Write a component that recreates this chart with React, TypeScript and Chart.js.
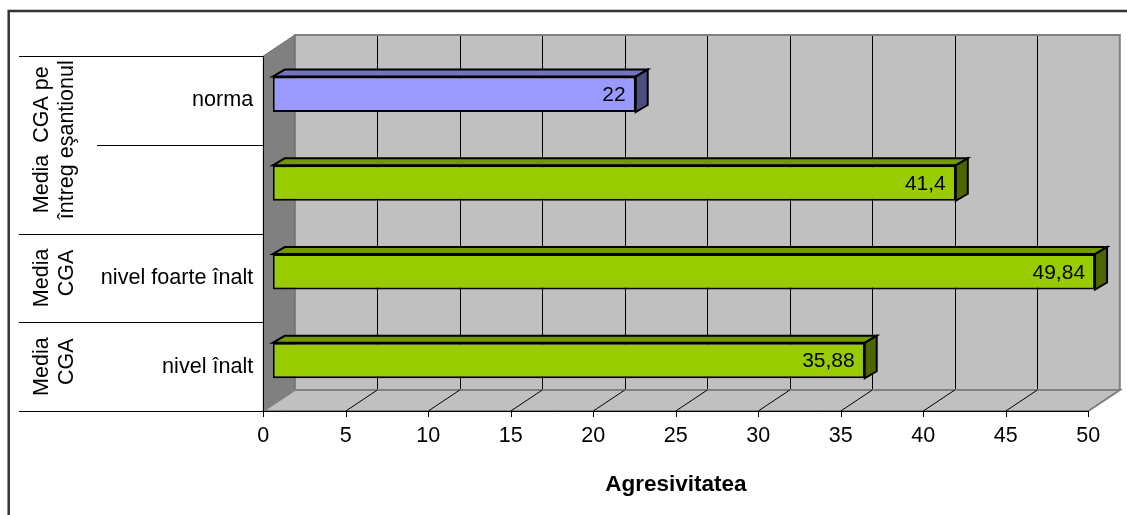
import { useEffect, useRef } from 'react';
import { Chart, registerables } from 'chart.js';

Chart.register(...registerables);

// ---- data ----
const categories = ['norma', '', 'nivel foarte înalt', 'nivel înalt'];
const values = [22, 41.4, 49.84, 35.88];
const groupLabels = [
  ['Media  CGA pe', 'întreg eşantionul'],
  ['Media', 'CGA'],
  ['Media', 'CGA'],
];
const groupFirst = [0, 2, 3];
const groupLast = [1, 2, 3];
const xTitle = 'Agresivitatea';
const xMin = 0;
const xMax = 50;
const xStep = 5;

// ---- styles ----
const FONT = "'Liberation Sans', Arial, sans-serif";
const frontColors = ['#9999FF', '#99CC00', '#99CC00', '#99CC00'];
const topColors = ['#7373BF', '#739900', '#739900', '#739900'];
const sideColors = ['#4D4D80', '#4D6600', '#4D6600', '#4D6600'];
const WALL = { dx: 31.5, dy: -21 };
const BAR_OFF = { dx: 9.4, dy: -6.1 };
const BAR_DEPTH = { dx: 12, dy: -7 };
const OUTER_X = 19;
const INNER_X = 97;
const GROUP_BASELINES = [48, 73];
const GROUP_SHIFT = [
  [-5, -5],
  [0, -5],
  [0, -5],
];

function line(ctx: CanvasRenderingContext2D, x1: number, y1: number, x2: number, y2: number) {
  ctx.beginPath();
  ctx.moveTo(x1, y1);
  ctx.lineTo(x2, y2);
  ctx.stroke();
}

function poly(ctx: CanvasRenderingContext2D, pts: number[][], fill: string, stroke: string, lw: number) {
  ctx.beginPath();
  ctx.moveTo(pts[0][0], pts[0][1]);
  for (let i = 1; i < pts.length; i++) ctx.lineTo(pts[i][0], pts[i][1]);
  ctx.closePath();
  ctx.fillStyle = fill;
  ctx.fill();
  if (stroke) {
    ctx.strokeStyle = stroke;
    ctx.lineWidth = lw;
    ctx.stroke();
  }
}

const threeD = {
  id: 'threeD',
  beforeDraw(chart: any) {
    const ctx: CanvasRenderingContext2D = chart.ctx;
    ctx.save();
    ctx.strokeStyle = '#333333';
    ctx.lineWidth = 2.5;
    ctx.strokeRect(8.7, 11, 3000, 3000);
    ctx.restore();
  },
  beforeDatasetsDraw(chart: any) {
    const ctx: CanvasRenderingContext2D = chart.ctx;
    const a = chart.chartArea;
    const xs = chart.scales.x;
    const ys = chart.scales.y;
    const X0 = xs.getPixelForValue(xMin);
    const X1 = xs.getPixelForValue(xMax);
    const T = a.top;
    const B = a.bottom;
    const { dx, dy } = WALL;
    ctx.save();
    ctx.lineJoin = 'miter';

    // back wall
    ctx.fillStyle = '#C0C0C0';
    ctx.fillRect(X0 + dx, T + dy, X1 - X0, B - T);
    ctx.strokeStyle = '#000';
    ctx.lineWidth = 1;
    xs.ticks.forEach((t: any) => {
      if (t.value <= xMin || t.value >= xMax) return;
      const px = Math.round(xs.getPixelForValue(t.value) + dx) + 0.5;
      line(ctx, px, T + dy, px, B + dy);
    });
    ctx.strokeStyle = '#808080';
    ctx.lineWidth = 2;
    ctx.strokeRect(X0 + dx, T + dy, X1 - X0, B - T);

    // left wall
    poly(ctx, [[X0, T], [X0 + dx, T + dy], [X0 + dx, B + dy], [X0, B]], '#808080', '#707070', 1);

    // floor
    poly(ctx, [[X0, B], [X0 + dx, B + dy], [X1 + dx, B + dy], [X1, B]], '#C0C0C0', '#808080', 2);
    ctx.strokeStyle = '#000';
    ctx.lineWidth = 1;
    xs.ticks.forEach((t: any) => {
      if (t.value <= xMin) return;
      const px = xs.getPixelForValue(t.value);
      if (t.value >= xMax) ctx.strokeStyle = '#808080';
      line(ctx, px, B, px + dx, B + dy);
      ctx.strokeStyle = '#000';
    });

    // axis lines and ticks
    ctx.strokeStyle = '#000';
    ctx.lineWidth = 1;
    const by = Math.round(B) + 0.5;
    line(ctx, OUTER_X, by, X1, by);
    const lx = Math.round(X0) + 0.5;
    line(ctx, lx, T, lx, B + 6);
    xs.ticks.forEach((t: any) => {
      const px = Math.round(xs.getPixelForValue(t.value)) + 0.5;
      line(ctx, px, B, px, B + 6);
    });

    // category table lines
    const n = categories.length;
    for (let i = 0; i <= n; i++) {
      let yy: number;
      if (i === 0) yy = T;
      else if (i === n) yy = B;
      else yy = (ys.getPixelForValue(i - 1) + ys.getPixelForValue(i)) / 2;
      const outer = i === n || groupFirst.includes(i);
      const py = Math.round(yy) + 0.5;
      line(ctx, outer ? OUTER_X : INNER_X, py, X0, py);
    }

    // category labels
    ctx.fillStyle = '#000';
    ctx.font = `21.6px ${FONT}`;
    ctx.textAlign = 'right';
    ctx.textBaseline = 'middle';
    categories.forEach((c, i) => {
      if (!c) return;
      ctx.fillText(c, X0 - 10, ys.getPixelForValue(i));
    });

    // group labels (rotated)
    ctx.font = `21.5px ${FONT}`;
    ctx.textAlign = 'center';
    ctx.textBaseline = 'alphabetic';
    groupLabels.forEach((lines, g) => {
      const y1 = ys.getPixelForValue(groupFirst[g]);
      const y2 = ys.getPixelForValue(groupLast[g]);
      const cy = (y1 + y2) / 2;
      lines.forEach((txt, k) => {
        ctx.save();
        ctx.translate(GROUP_BASELINES[k], cy + GROUP_SHIFT[g][k]);
        ctx.rotate(-Math.PI / 2);
        ctx.fillText(txt, 0, 0);
        ctx.restore();
      });
    });

    // bar top / side faces
    const meta = chart.getDatasetMeta(0);
    meta.data.forEach((el: any, i: number) => {
      const p = el.getProps(['x', 'y', 'base', 'height'], true);
      const L = p.base + BAR_OFF.dx;
      const R = p.x + BAR_OFF.dx;
      const tp = p.y - p.height / 2 + BAR_OFF.dy;
      const bt = p.y + p.height / 2 + BAR_OFF.dy;
      const ddx = BAR_DEPTH.dx;
      const ddy = BAR_DEPTH.dy;
      poly(ctx, [[L, tp], [L + ddx, tp + ddy], [R + ddx, tp + ddy], [R, tp]], topColors[i], '#000', 2);
      poly(ctx, [[R, tp], [R + ddx, tp + ddy], [R + ddx, bt + ddy], [R, bt]], sideColors[i], '#000', 2);
    });

    ctx.restore();
    ctx.save();
    ctx.translate(BAR_OFF.dx, BAR_OFF.dy);
  },
  afterDatasetsDraw(chart: any) {
    const ctx: CanvasRenderingContext2D = chart.ctx;
    ctx.restore();
    ctx.save();
    ctx.fillStyle = '#000';
    ctx.font = `21px ${FONT}`;
    ctx.textAlign = 'right';
    ctx.textBaseline = 'middle';
    const meta = chart.getDatasetMeta(0);
    meta.data.forEach((el: any, i: number) => {
      const p = el.getProps(['x', 'y'], true);
      const label = String(values[i]).replace('.', ',');
      ctx.fillText(label, p.x + BAR_OFF.dx - 10, p.y + BAR_OFF.dy + 1);
    });
    ctx.restore();
  },
};

export default function App() {
  const ref = useRef<HTMLCanvasElement | null>(null);
  useEffect(() => {
    if (!ref.current) return;
    const chart = new Chart(ref.current, {
      type: 'bar',
      data: {
        labels: categories,
        datasets: [
          {
            data: values,
            backgroundColor: frontColors,
            borderColor: '#000',
            borderWidth: 2,
            borderSkipped: false,
            barPercentage: 0.4,
            categoryPercentage: 1,
          },
        ],
      },
      options: {
        indexAxis: 'y',
        animation: false,
        responsive: false,
        devicePixelRatio: 1,
        layout: { padding: { left: 263.3, right: 38.7, top: 56, bottom: 0 } },
        plugins: { legend: { display: false }, tooltip: { enabled: false } },
        scales: {
          x: {
            type: 'linear',
            min: xMin,
            max: xMax,
            ticks: {
              stepSize: xStep,
              color: '#000',
              font: { family: FONT, size: 21.5, lineHeight: 1 },
              padding: 14.3,
              autoSkip: false,
              maxRotation: 0,
            },
            grid: { display: false, drawTicks: false },
            border: { display: false },
            title: {
              display: true,
              text: xTitle,
              color: '#000',
              font: { family: FONT, size: 22.5, weight: 'bold', lineHeight: 1 },
              padding: { top: 0, bottom: 18.7 },
            },
            afterFit: (s: any) => {
              s.height = 104;
            },
          },
          y: { type: 'category', display: false },
        },
      } as any,
      plugins: [threeD],
    });
    return () => chart.destroy();
  }, []);
  return (
    <div style={{ position: 'fixed', left: 0, top: 0, width: 1127, height: 515 }}>
      <canvas ref={ref} width={1127} height={515} style={{ display: 'block' }} />
    </div>
  );
}
